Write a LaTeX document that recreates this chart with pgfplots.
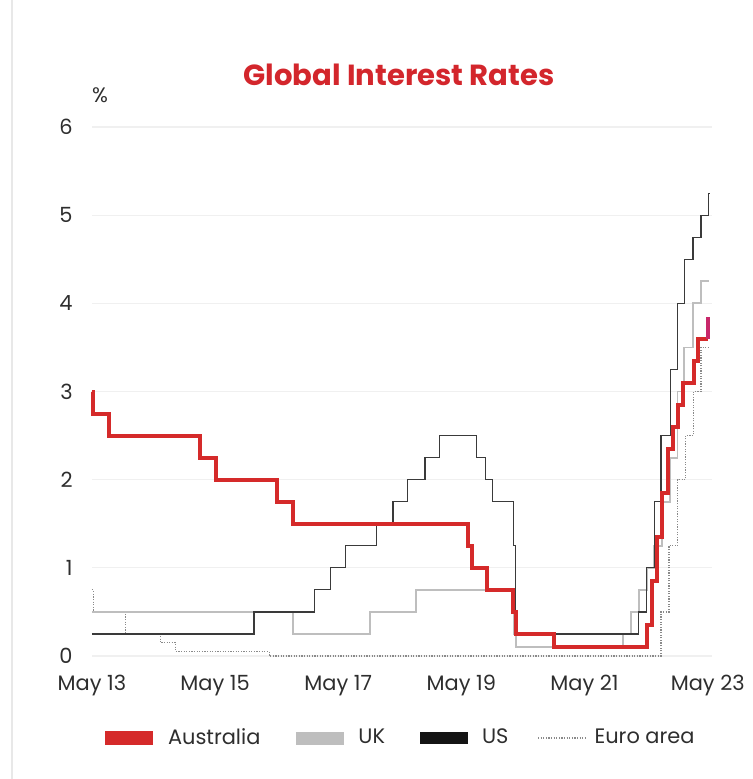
\documentclass[border=0pt]{standalone}
\usepackage{fontspec}
\setmainfont{Poppins}
\usepackage{pgfplots}
\pgfplotsset{compat=1.18}

\definecolor{ausred}{HTML}{D52A2A}
\definecolor{auspink}{HTML}{C8286A}
\definecolor{ukgrey}{HTML}{BEBEBE}
\definecolor{usgrey}{HTML}{3A3A3A}
\definecolor{eugrey}{HTML}{8A8A8A}
\definecolor{titlered}{HTML}{D3262C}
\definecolor{labelgrey}{HTML}{2E2E2E}

\begin{document}
\begin{tikzpicture}
\useasboundingbox (-46bp,-61.5bp) rectangle (330.5bp,328bp);
\draw[black!9, line width=0.6bp] (-40bp,-61.5bp) -- (-40bp,328bp);
\begin{axis}[
    scale only axis,
    width=310bp, height=264.5bp,
    xmin=2013.33, xmax=2023.40,
    ymin=0, ymax=6,
    clip=false,
    axis line style={draw=none},
    major tick length=0pt,
    xtick={2013.33,2015.33,2017.33,2019.33,2021.33,2023.33},
    xticklabels={May 13,May 15,May 17,May 19,May 21,May 23},
    ytick={0,1,2,3,4,5,6},
    ymajorgrids,
    grid style={black!6, line width=0.6bp},
    /pgf/number format/assume math mode=true,
    tick label style={font=\fontsize{10.5}{12}\selectfont, text=labelgrey},
    xticklabel style={inner sep=0pt, anchor=north, yshift=-9.5bp},
    yticklabel style={inner sep=0pt, anchor=east, xshift=-9.5bp},
    legend columns=4,
    legend style={draw=none, fill=none, at={(0.494,0)}, anchor=center,
        yshift=-41bp, font=\fontsize{10.5}{12}\selectfont, text=labelgrey,
        /tikz/every even column/.append style={column sep=12.5bp},
        /tikz/every odd column/.append style={column sep=2bp}},
  ]
% legend swatches, in the reference's order
\addlegendimage{legend image code/.code={\draw[ausred, line width=7bp] (0bp,0bp) -- (24bp,0bp);}}
\addlegendimage{legend image code/.code={\draw[ukgrey, line width=6.5bp] (0bp,0bp) -- (24bp,0bp);}}
\addlegendimage{legend image code/.code={\draw[black!92, line width=6bp] (0bp,0bp) -- (24bp,0bp);}}
\addlegendimage{legend image code/.code={\draw[eugrey, line width=0.6bp, dash pattern=on 0.6bp off 0.7bp] (0bp,0bp) -- (24bp,0bp);}}
% Euro area (main refinancing rate)
\addplot[const plot, eugrey, line width=0.6bp, dash pattern=on 0.6bp off 0.7bp, forget plot]
  coordinates {
    (2013.33,0.75) (2013.35,0.50) (2013.87,0.25) (2014.44,0.15) (2014.69,0.05)
    (2016.21,0.00) (2022.57,0.50) (2022.70,1.25) (2022.84,2.00) (2022.97,2.50)
    (2023.10,3.00) (2023.22,3.50) (2023.35,3.50)
  };
% UK (Bank Rate)
\addplot[const plot, ukgrey, line width=0.9bp, forget plot]
  coordinates {
    (2013.33,0.50) (2016.59,0.25) (2017.84,0.50) (2018.59,0.75) (2020.19,0.25)
    (2020.21,0.10) (2021.96,0.25) (2022.09,0.50) (2022.21,0.75) (2022.34,1.00)
    (2022.46,1.25) (2022.59,1.75) (2022.72,2.25) (2022.84,3.00) (2022.95,3.50)
    (2023.09,4.00) (2023.22,4.25) (2023.35,4.25)
  };
% US (upper bound of target range)
\addplot[const plot, usgrey, line width=0.6bp, forget plot]
  coordinates {
    (2013.33,0.25) (2015.96,0.50) (2016.95,0.75) (2017.20,1.00) (2017.45,1.25)
    (2017.95,1.50) (2018.22,1.75) (2018.45,2.00) (2018.74,2.25) (2018.97,2.50)
    (2019.58,2.25) (2019.72,2.00) (2019.83,1.75) (2020.17,1.25) (2020.21,0.25)
    (2022.21,0.50) (2022.34,1.00) (2022.46,1.75) (2022.57,2.50) (2022.72,3.25)
    (2022.84,4.00) (2022.95,4.50) (2023.09,4.75) (2023.22,5.00) (2023.34,5.25)
    (2023.36,5.25)
  };
% Australia (cash rate target)
\addplot[const plot, ausred, line width=2bp, forget plot]
  coordinates {
    (2013.33,3.00) (2013.35,2.75) (2013.60,2.50) (2015.09,2.25) (2015.34,2.00)
    (2016.34,1.75) (2016.59,1.50) (2019.43,1.25) (2019.50,1.00) (2019.75,0.75)
    (2020.17,0.50) (2020.21,0.25) (2020.84,0.10) (2022.34,0.35) (2022.43,0.85)
    (2022.51,1.35) (2022.59,1.85) (2022.68,2.35) (2022.76,2.60) (2022.84,2.85)
    (2022.93,3.10) (2023.10,3.35) (2023.18,3.60) (2023.33,3.60)
  };
% latest Australian move
\addplot[auspink, line width=2bp, forget plot]
  coordinates {(2023.33,3.60) (2023.33,3.85)};
\legend{Australia,UK,US,Euro area}
\end{axis}
\node[font=\fontsize{14.6}{17}\selectfont\bfseries, text=titlered] at (153.5bp,290.5bp) {Global Interest Rates};
\node[font=\fontsize{10.5}{12}\selectfont, text=labelgrey] at (4bp,280.5bp) {\%};
\end{tikzpicture}
\end{document}
